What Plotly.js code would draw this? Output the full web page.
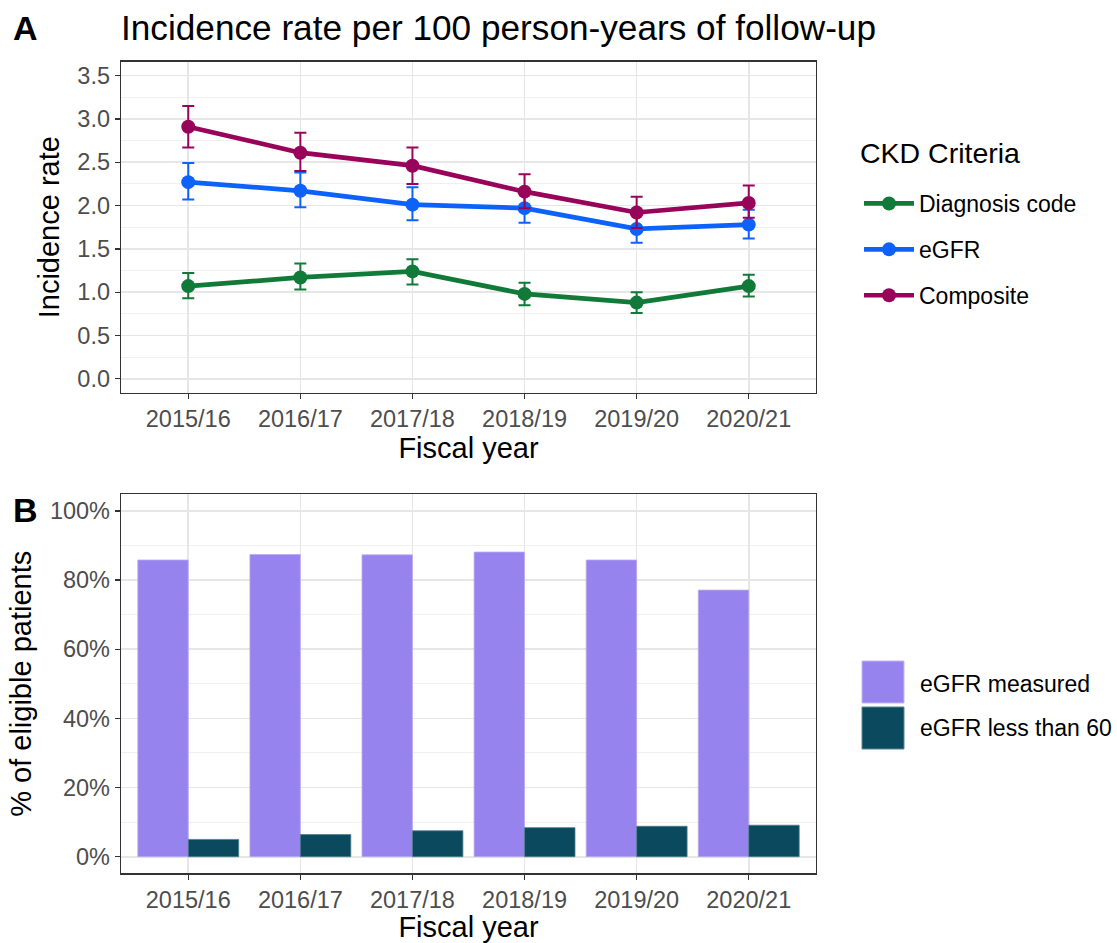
<!DOCTYPE html>
<html>
<head>
<meta charset="utf-8">
<script src="https://cdn.plot.ly/plotly-3.0.1.min.js"></script>
<style>
  html, body { margin: 0; padding: 0; background: #ffffff; }
  #chart { width: 1117px; height: 943px; }
</style>
</head>
<body>
<div id="chart"></div>
<script>
// ---------------- DATA ----------------
const fiscalYears = ["2015/16", "2016/17", "2017/18", "2018/19", "2019/20", "2020/21"];

// Panel A: incidence rate per 100 person-years, with CI bounds
const diagnosisRate  = [1.07, 1.17, 1.24, 0.98, 0.88, 1.07];
const diagnosisUpper = [1.22, 1.33, 1.38, 1.11, 1.00, 1.20];
const diagnosisLower = [0.93, 1.03, 1.09, 0.85, 0.76, 0.95];

const egfrRate  = [2.27, 2.17, 2.01, 1.97, 1.73, 1.78];
const egfrUpper = [2.49, 2.38, 2.21, 2.15, 1.90, 1.95];
const egfrLower = [2.07, 1.98, 1.83, 1.80, 1.57, 1.62];

const compositeRate  = [2.91, 2.61, 2.46, 2.16, 1.92, 2.03];
const compositeUpper = [3.15, 2.84, 2.67, 2.36, 2.10, 2.23];
const compositeLower = [2.67, 2.40, 2.25, 1.97, 1.74, 1.86];

const lineSeriesNames = ["Diagnosis code", "eGFR", "Composite"];
const lineLegendTitle = "CKD Criteria";

// Panel B: % of eligible patients
const egfrMeasuredPct = [85.8, 87.4, 87.3, 88.1, 85.8, 77.1];
const egfrBelow60Pct  = [5.0, 6.4, 7.5, 8.4, 8.8, 9.1];
const barSeriesNames = ["eGFR measured", "eGFR less than 60"];

const yTicksA = [0, 0.5, 1, 1.5, 2, 2.5, 3, 3.5];
const yTickLabelsA = ["0.0", "0.5", "1.0", "1.5", "2.0", "2.5", "3.0", "3.5"];
const yTicksB = [0, 20, 40, 60, 80, 100];
const yTickLabelsB = ["0%", "20%", "40%", "60%", "80%", "100%"];

// ---------------- STYLE ----------------
const FONT = "Liberation Sans, Arial, Helvetica, sans-serif";
const colGreen = "#127A38";
const colBlue = "#0D62FB";
const colMagenta = "#99045B";
const colPurple = "#9783ED";
const colTeal = "#0B4A5E";
const W = 1117, H = 943;
const px = v => v / W;
const py = v => 1 - v / H;
const TICK = 23.5;

function lineTrace(name, y, up, lo, color) {
  return {
    type: "scatter", mode: "lines+markers", name: name,
    x: fiscalYears, y: y, xaxis: "x", yaxis: "y",
    line: { color: color, width: 4.7 },
    marker: { color: color, size: 14 },
    error_y: {
      type: "data", symmetric: false,
      array: up.map((u, i) => u - y[i]),
      arrayminus: lo.map((l, i) => y[i] - l),
      color: color, thickness: 2, width: 6
    },
    legend: "legend", legendgroup: name
  };
}

const traces = [
  lineTrace(lineSeriesNames[0], diagnosisRate, diagnosisUpper, diagnosisLower, colGreen),
  lineTrace(lineSeriesNames[1], egfrRate, egfrUpper, egfrLower, colBlue),
  lineTrace(lineSeriesNames[2], compositeRate, compositeUpper, compositeLower, colMagenta),
  {
    type: "bar", name: barSeriesNames[0], x: fiscalYears, y: egfrMeasuredPct,
    xaxis: "x2", yaxis: "y2", marker: { color: colPurple, line: { color: "#b9acf4", width: 0.8 } },
    showlegend: false
  },
  {
    type: "bar", name: barSeriesNames[1], x: fiscalYears, y: egfrBelow60Pct,
    xaxis: "x2", yaxis: "y2", marker: { color: colTeal, line: { color: "#4d7c8b", width: 0.8 } },
    showlegend: false
  }
];

const gridMajor = "#E6E6E6";
const gridMinor = "#F0F0F0";

function xAxis(anchor) {
  return {
    domain: [px(121), px(816)], anchor: anchor, type: "category",
    range: [-0.6, 5.6], showgrid: true, gridcolor: gridMajor, gridwidth: 1.6,
    showline: true, mirror: true, linecolor: "#333333", linewidth: 1.3,
    ticks: "outside", ticklen: 5, tickcolor: "#333333", tickwidth: 1.3,
    tickfont: { family: FONT, size: TICK, color: "#4D4D4D" },
    title: { text: "Fiscal year", font: { family: FONT, size: 29, color: "#000000" }, standoff: 3 },
    zeroline: false, fixedrange: true
  };
}

const layout = {
  width: W, height: H,
  paper_bgcolor: "#ffffff", plot_bgcolor: "#ffffff",
  margin: { l: 0, r: 0, t: 0, b: 0 },
  font: { family: FONT },
  barmode: "group", bargap: 0.1, bargroupgap: 0,
  xaxis: xAxis("y"),
  yaxis: {
    domain: [py(392.7), py(61.7)], anchor: "x",
    range: [-0.16, 3.66], tickvals: yTicksA, ticktext: yTickLabelsA,
    showgrid: true, gridcolor: gridMajor, gridwidth: 1.6,
    minor: { tick0: 0.25, dtick: 0.5, showgrid: true, gridcolor: gridMinor, gridwidth: 1, ticklen: 0 },
    showline: true, mirror: true, linecolor: "#333333", linewidth: 1.3,
    ticks: "outside", ticklen: 5, tickcolor: "#333333", tickwidth: 1.3,
    tickfont: { family: FONT, size: TICK, color: "#4D4D4D" },
    title: { text: "Incidence rate", font: { family: FONT, size: 29, color: "#000000" }, standoff: 9 },
    zeroline: false, fixedrange: true
  },
  xaxis2: xAxis("y2"),
  yaxis2: {
    domain: [py(873.3), py(494.3)], anchor: "x2",
    range: [-4.8, 104.8], tickvals: yTicksB, ticktext: yTickLabelsB,
    showgrid: true, gridcolor: gridMajor, gridwidth: 1.6,
    minor: { tick0: 10, dtick: 20, showgrid: true, gridcolor: gridMinor, gridwidth: 1, ticklen: 0 },
    showline: true, mirror: true, linecolor: "#333333", linewidth: 1.3,
    ticks: "outside", ticklen: 5, tickcolor: "#333333", tickwidth: 1.3,
    tickfont: { family: FONT, size: TICK, color: "#4D4D4D" },
    title: { text: "% of eligible patients", font: { family: FONT, size: 29, color: "#000000" }, standoff: 9 },
    zeroline: false, fixedrange: true
  },
  showlegend: true,
  legend: {
    x: px(859), y: py(182), xanchor: "left", yanchor: "top",
    bgcolor: "rgba(0,0,0,0)", borderwidth: 0,
    traceorder: "grouped", tracegroupgap: 13, itemwidth: 50,
    font: { family: FONT, size: 23, color: "#000000" }
  },
  annotations: [
    { text: "<b>A</b>", xref: "paper", yref: "paper", x: px(11), y: py(28), xanchor: "left", yanchor: "middle",
      showarrow: false, font: { family: FONT, size: 34, color: "#000000" } },
    { text: "Incidence rate per 100 person-years of follow-up", xref: "paper", yref: "paper",
      x: px(119), y: py(28), xanchor: "left", yanchor: "middle",
      showarrow: false, font: { family: FONT, size: 35.2, color: "#000000" } },
    { text: "<b>B</b>", xref: "paper", yref: "paper", x: px(11), y: py(510), xanchor: "left", yanchor: "middle",
      showarrow: false, font: { family: FONT, size: 34, color: "#000000" } },
    { text: lineLegendTitle, xref: "paper", yref: "paper", x: px(858), y: py(153), xanchor: "left", yanchor: "middle",
      showarrow: false, font: { family: FONT, size: 28.5, color: "#000000" } },
    { text: barSeriesNames[0], xref: "paper", yref: "paper", x: px(918), y: py(684), xanchor: "left", yanchor: "middle",
      showarrow: false, font: { family: FONT, size: 23, color: "#000000" } },
    { text: barSeriesNames[1], xref: "paper", yref: "paper", x: px(918), y: py(728), xanchor: "left", yanchor: "middle",
      showarrow: false, font: { family: FONT, size: 23, color: "#000000" } }
  ],
  shapes: [
    { type: "rect", xref: "paper", yref: "paper", x0: px(862), x1: px(904), y0: py(703), y1: py(661),
      fillcolor: colPurple, line: { color: "#c3b8f6", width: 1 } },
    { type: "rect", xref: "paper", yref: "paper", x0: px(862), x1: px(904), y0: py(749), y1: py(707),
      fillcolor: colTeal, line: { color: "#5a8796", width: 1 } }
  ]
};

Plotly.newPlot("chart", traces, layout, { staticPlot: true, displayModeBar: false });
</script>
</body>
</html>
